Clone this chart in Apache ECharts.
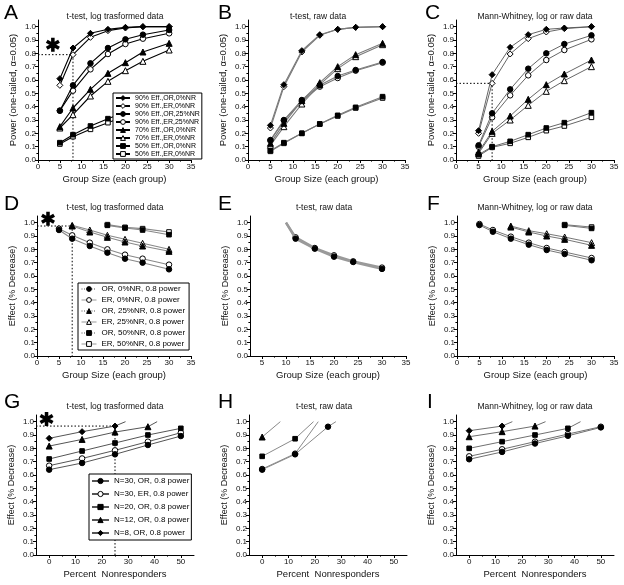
<!DOCTYPE html>
<html><head><meta charset="utf-8">
<script src="https://cdn.jsdelivr.net/npm/echarts@6/dist/echarts.min.js"></script>
<style>html,body{margin:0;padding:0;background:#fff}#c{width:624px;height:585px}</style>
</head><body><div id="c"></div>
<script>
// ---------------- data ----------------
const groupSizes = [5, 8, 12, 16, 20, 24, 30];
const percentNR = [0, 12.5, 25, 37.5, 50];

const groupTicks = [0, 5, 10, 15, 20, 25, 30, 35];
const groupMinor = [2.5, 7.5, 12.5, 17.5, 22.5, 27.5, 32.5];
const groupTicksE = [5, 10, 15, 20, 25, 30, 35];
const groupMinorE = [7.5, 12.5, 17.5, 22.5, 27.5, 32.5];
const pctTicks = [0, 10, 20, 30, 40, 50];
const pctMinor = [5, 15, 25, 35, 45];
const yTicks = [0, 0.1, 0.2, 0.3, 0.4, 0.5, 0.6, 0.7, 0.8, 0.9, 1.0];
const yMinor = [0.05, 0.15, 0.25, 0.35, 0.45, 0.55, 0.65, 0.75, 0.85, 0.95];

// A: t-test, log transformed data (power)
const A_90_OR_0  = [0.61, 0.84, 0.95, 0.98, 0.995, 1.00, 1.00];
const A_90_ER_0  = [0.56, 0.79, 0.92, 0.97, 0.99, 1.00, 1.00];
const A_90_OR_25 = [0.37, 0.56, 0.725, 0.84, 0.905, 0.94, 0.975];
const A_90_ER_25 = [0.37, 0.52, 0.68, 0.795, 0.87, 0.91, 0.95];
const A_70_OR_0  = [0.25, 0.39, 0.53, 0.65, 0.73, 0.81, 0.875];
const A_70_ER_0  = [0.24, 0.34, 0.48, 0.59, 0.67, 0.74, 0.825];
const A_50_OR_0  = [0.13, 0.19, 0.255, 0.31, 0.36, 0.41, 0.48];
const A_50_ER_0  = [0.12, 0.175, 0.23, 0.28, 0.33, 0.38, 0.46];
const A_refN = 8, A_refPower = 0.79;
const A_star = [3.4, 0.865];

// B: t-test, raw data
const B_90_OR_0  = [0.26, 0.565, 0.82, 0.94, 0.98, 0.995, 1.00];
const B_90_ER_0  = [0.24, 0.55, 0.81, 0.935, 0.98, 0.995, 1.00];
const B_90_OR_25 = [0.15, 0.30, 0.45, 0.56, 0.63, 0.675, 0.735];
const B_90_ER_25 = [0.145, 0.295, 0.44, 0.55, 0.615, 0.67, 0.73];
const B_70_OR_0  = [0.125, 0.275, 0.445, 0.58, 0.70, 0.79, 0.875];
const B_70_ER_0  = [0.11, 0.25, 0.42, 0.565, 0.685, 0.775, 0.865];
const B_50_OR_0  = [0.07, 0.13, 0.20, 0.27, 0.335, 0.395, 0.475];
const B_50_ER_0  = [0.065, 0.125, 0.20, 0.27, 0.33, 0.39, 0.465];

// C: Mann-Whitney
const C_90_OR_0  = [0.22, 0.64, 0.845, 0.94, 0.98, 0.99, 1.00];
const C_90_ER_0  = [0.20, 0.575, 0.795, 0.91, 0.96, 0.985, 1.00];
const C_90_OR_25 = [0.11, 0.35, 0.53, 0.685, 0.80, 0.87, 0.935];
const C_90_ER_25 = [0.10, 0.32, 0.485, 0.635, 0.75, 0.825, 0.905];
const C_70_OR_0  = [0.06, 0.215, 0.33, 0.455, 0.565, 0.645, 0.75];
const C_70_ER_0  = [0.05, 0.20, 0.30, 0.41, 0.515, 0.595, 0.70];
const C_50_OR_0  = [0.04, 0.10, 0.14, 0.19, 0.24, 0.28, 0.355];
const C_50_ER_0  = [0.03, 0.095, 0.125, 0.17, 0.22, 0.255, 0.32];
const C_refN = 8, C_refPower = 0.575;

// D: effect at 0.8 power, t-test log
const D_OR_0  = [0.945, 0.88, 0.825, 0.775, 0.73, 0.70, 0.65];
const D_ER_0  = [0.955, 0.905, 0.85, 0.80, 0.76, 0.73, 0.685];
const D_OR_25 = [null, 0.975, 0.93, 0.89, 0.855, 0.825, 0.785];
const D_ER_25 = [null, 0.98, 0.945, 0.905, 0.875, 0.845, 0.80];
const D_OR_50 = [null, null, null, 0.98, 0.96, 0.945, 0.91];
const D_ER_50 = [null, null, null, 0.985, 0.965, 0.955, 0.93];
const D_50_start = [15.5, 1.0];
const D_refN = 8, D_refEffect = 0.975;
const D_star = [2.5, 1.03];

// E: t-test raw
const E_OR_0 = [null, null, 0.88, 0.805, 0.745, 0.705, 0.653];
const E_ER_0 = [null, null, 0.89, 0.81, 0.755, 0.71, 0.663];
const E_start = [10, 1.0];

// F: Mann-Whitney
const F_OR_0  = [0.982, 0.932, 0.88, 0.835, 0.795, 0.765, 0.718];
const F_ER_0  = [0.99, 0.945, 0.895, 0.85, 0.81, 0.78, 0.735];
const F_OR_25 = [null, null, 0.967, 0.93, 0.90, 0.875, 0.83];
const F_ER_25 = [null, null, 0.975, 0.94, 0.917, 0.892, 0.85];
const F_OR_50 = [null, null, null, null, null, 0.98, 0.957];
const F_ER_50 = [null, null, null, null, null, 0.985, 0.967];

// G: effect vs % nonresponders, t-test log
const G_N30_OR = [0.64, 0.69, 0.755, 0.825, 0.892];
const G_N30_ER = [0.67, 0.724, 0.785, 0.85, 0.917];
const G_N20_OR = [0.72, 0.78, 0.84, 0.90, 0.95];
const G_N12_OR = [0.817, 0.867, 0.922, 0.962, null];
const G_N8_OR  = [0.875, 0.925, 0.967, null, null];
const G_N12_end = [41, 1.0];
const G_N8_end = [29, 1.0];
const G_refNR = 25, G_refEffect = 0.967;
const G_star = [-1, 1.02];

// H: t-test raw
const H_N30_OR = [0.64, 0.755, 0.962, null, null];
const H_N30_ER = [0.645, 0.76, null, null, null];
const H_N20_OR = [0.74, 0.872, null, null, null];
const H_N12_OR = [0.885, null, null, null, null];
const H_N30_OR_end = [28, 1.0];
const H_N30_ER_end = [21.3, 1.0];
const H_N20_end = [19.5, 1.0];
const H_N12_end = [6.9, 1.0];

// I: Mann-Whitney
const I_N30_OR = [0.718, 0.773, 0.836, 0.894, 0.957];
const I_N30_ER = [0.74, 0.793, 0.85, 0.907, 0.962];
const I_N20_OR = [0.80, 0.85, 0.90, 0.95, null];
const I_N12_OR = [0.887, 0.925, 0.967, null, null];
const I_N8_OR  = [0.932, 0.967, null, null, null];
const I_N20_end = [42.3, 1.0];
const I_N12_end = [29, 1.0];
const I_N8_end = [16.4, 1.0];

const namesA = ['90% Eff.,OR,0%NR','90% Eff.,ER,0%NR','90% Eff.,OR,25%NR','90% Eff.,ER,25%NR',
                '70% Eff.,OR,0%NR','70% Eff.,ER,0%NR','50% Eff.,OR,0%NR','50% Eff.,ER,0%NR'];
const namesD = ['OR, 0%NR, 0.8 power','ER, 0%NR, 0.8 power','OR, 25%NR, 0.8 power',
                'ER, 25%NR, 0.8 power','OR, 50%NR, 0.8 power','ER, 50%NR, 0.8 power'];
const namesG = ['N=30, OR, 0.8 power','N=30, ER, 0.8 power','N=20, OR, 0.8 power',
                'N=12, OR, 0.8 power','N=8, OR, 0.8 power'];

// ---------------- build ----------------
const FONT = "'Liberation Sans', Arial, sans-serif";
const SHAPE = {dia:'diamond', cir:'circle', tri:'triangle', sq:'rect'};
const SIZE = {dia:6, cir:5.5, tri:6, sq:4.6};
const STAR_PATH = 'path://M-1.5,-6L1.5,-6L1.5,6L-1.5,6Z' +
  'M4.446,-4.299L5.946,-1.701L-4.446,4.299L-5.946,1.701Z' +
  'M5.946,1.701L4.446,4.299L-5.946,-1.701L-4.446,-4.299Z';

function ln(g, name, xs, ys, shape, filled, color, width, opts) {
  opts = opts || {};
  const data = [];
  if (opts.start) data.push({value: opts.start, symbol: 'none'});
  xs.forEach((x, i) => { if (ys[i] != null) data.push([x, ys[i]]); });
  if (opts.end) data.push({value: opts.end, symbol: 'none'});
  return {
    type: 'line', name, xAxisIndex: g, yAxisIndex: g, data,
    symbol: SHAPE[shape], symbolSize: SIZE[shape], showAllSymbol: true,
    lineStyle: {color, width},
    itemStyle: {color: filled ? '#000' : '#fff', borderColor: '#000', borderWidth: 1},
    emphasis: {disabled: true}, z: filled ? 3 : 2, silent: true
  };
}
function ref(g, x0, xv, yv) {
  return {type: 'line', xAxisIndex: g, yAxisIndex: g, symbol: 'none', silent: true,
    data: [[x0, yv], [xv, yv], [xv, 0]],
    lineStyle: {color: '#000', width: 1, type: [1.5, 2]}, z: 1};
}
function star(g, pos) {
  return {type: 'scatter', xAxisIndex: g, yAxisIndex: g, data: [pos], symbol: STAR_PATH,
    symbolSize: 14, silent: true, itemStyle: {color: '#000', opacity: 1}, z: 5};
}

const series = [];
function powerPanel(g, arrs, names, color, w) {
  const shapes = ['dia','dia','cir','cir','tri','tri','sq','sq'];
  arrs.forEach((a, i) => series.push(ln(g, names[i], groupSizes, a, shapes[i], i % 2 === 0, color, w)));
}
powerPanel(0, [A_90_OR_0, A_90_ER_0, A_90_OR_25, A_90_ER_25, A_70_OR_0, A_70_ER_0, A_50_OR_0, A_50_ER_0], namesA, '#000', 1.1);
powerPanel(1, [B_90_OR_0, B_90_ER_0, B_90_OR_25, B_90_ER_25, B_70_OR_0, B_70_ER_0, B_50_OR_0, B_50_ER_0], namesA.map(n => 'B ' + n), '#7a7a7a', 1.1);
powerPanel(2, [C_90_OR_0, C_90_ER_0, C_90_OR_25, C_90_ER_25, C_70_OR_0, C_70_ER_0, C_50_OR_0, C_50_ER_0], namesA.map(n => 'C ' + n), '#555', 0.9);
series.push(ref(0, 0, A_refN, A_refPower), star(0, A_star));
series.push(ref(2, 0, C_refN, C_refPower));

const effShapes = ['cir','cir','tri','tri','sq','sq'];
[D_OR_0, D_ER_0, D_OR_25, D_ER_25, D_OR_50, D_ER_50].forEach((a, i) =>
  series.push(ln(3, namesD[i], groupSizes, a, effShapes[i], i % 2 === 0, '#888', 1.1,
    i >= 4 ? {start: D_50_start} : {})));
series.push(ref(3, 0, D_refN, D_refEffect), star(3, D_star));

[E_OR_0, E_ER_0].forEach((a, i) =>
  series.push(ln(4, 'E ' + namesD[i], groupSizes, a, 'cir', i === 0, '#9a9a9a', 2.4, {start: E_start})));

[F_OR_0, F_ER_0, F_OR_25, F_ER_25, F_OR_50, F_ER_50].forEach((a, i) =>
  series.push(ln(5, 'F ' + namesD[i], groupSizes, a, effShapes[i], i % 2 === 0, '#666', 0.9)));

const nrShapes = ['cir','cir','sq','tri','dia'];
[[G_N30_OR], [G_N30_ER], [G_N20_OR], [G_N12_OR, G_N12_end], [G_N8_OR, G_N8_end]].forEach((a, i) =>
  series.push(ln(6, namesG[i], percentNR, a[0], nrShapes[i], i !== 1, '#555', 1, a[1] ? {end: a[1]} : {})));
series.push(ref(6, -5, G_refNR, G_refEffect), star(6, G_star));

[[H_N30_OR, H_N30_OR_end], [H_N30_ER, H_N30_ER_end], [H_N20_OR, H_N20_end], [H_N12_OR, H_N12_end]].forEach((a, i) =>
  series.push(ln(7, 'H ' + namesG[i], percentNR, a[0], nrShapes[i], i !== 1, '#8a8a8a', 1, {end: a[1]})));

[[I_N30_OR], [I_N30_ER], [I_N20_OR, I_N20_end], [I_N12_OR, I_N12_end], [I_N8_OR, I_N8_end]].forEach((a, i) =>
  series.push(ln(8, 'I ' + namesG[i], percentNR, a[0], nrShapes[i], i !== 1, '#707070', 1, a[1] ? {end: a[1]} : {})));

// layout
const H = 140;
const panels = [
  {left: 38,  top: 20,  width: 153, xmin: 0,   xmax: 35, xt: groupTicks,  xm: groupMinor,  xn: 'Group Size (each group)', yn: 'Power (one-tailed, \u03b1=0.05)', title: 't-test, log trasformed data', tx: 115, ty: 12, L: 'A', lx: 4, ly: 3},
  {left: 248, top: 20,  width: 157, xmin: 0,   xmax: 35, xt: groupTicks,  xm: groupMinor,  xn: 'Group Size (each group)', yn: 'Power (one-tailed, \u03b1=0.05)', title: 't-test, raw data', tx: 318, ty: 12, L: 'B', lx: 218, ly: 3},
  {left: 456, top: 20,  width: 158, xmin: 0,   xmax: 35, xt: groupTicks,  xm: groupMinor,  xn: 'Group Size (each group)', yn: 'Power (one-tailed, \u03b1=0.05)', title: 'Mann-Whitney, log or raw data', tx: 535, ty: 12, L: 'C', lx: 425, ly: 3},
  {left: 37,  top: 216, width: 154, xmin: 0,   xmax: 35, xt: groupTicks,  xm: groupMinor,  xn: 'Group Size (each group)', yn: 'Effect (% Decrease)', title: 't-test, log trasformed data', tx: 115, ty: 203, L: 'D', lx: 4, ly: 194},
  {left: 250, top: 216, width: 156, xmin: 2.5, xmax: 35, xt: groupTicksE, xm: groupMinorE, xn: 'Group Size (each group)', yn: 'Effect (% Decrease)', title: 't-test, raw data', tx: 324, ty: 203, L: 'E', lx: 218, ly: 194},
  {left: 457, top: 216, width: 157, xmin: 0,   xmax: 35, xt: groupTicks,  xm: groupMinor,  xn: 'Group Size (each group)', yn: 'Effect (% Decrease)', title: 'Mann-Whitney, log or raw data', tx: 535, ty: 203, L: 'F', lx: 427, ly: 194},
  {left: 36,  top: 415, width: 158, xmin: -5,  xmax: 55, xt: pctTicks,    xm: pctMinor,    xn: 'Percent  Nonresponders', yn: 'Effect (% Decrease)', title: 't-test, log trasformed data', tx: 115, ty: 402, L: 'G', lx: 4, ly: 392},
  {left: 249, top: 415, width: 158, xmin: -5,  xmax: 55, xt: pctTicks,    xm: pctMinor,    xn: 'Percent  Nonresponders', yn: 'Effect (% Decrease)', title: 't-test, raw data', tx: 324, ty: 402, L: 'H', lx: 218, ly: 392},
  {left: 456, top: 415, width: 158, xmin: -5,  xmax: 55, xt: pctTicks,    xm: pctMinor,    xn: 'Percent  Nonresponders', yn: 'Effect (% Decrease)', title: 'Mann-Whitney, log or raw data', tx: 535, ty: 402, L: 'I', lx: 427, ly: 392}
];

const grid = [], xAxis = [], yAxis = [], title = [];
const black = {color: '#000', width: 1};
panels.forEach((p, g) => {
  grid.push({left: p.left, top: p.top, width: p.width, height: H});
  xAxis.push({type: 'value', gridIndex: g, min: p.xmin, max: p.xmax, position: 'bottom',
    name: p.xn, nameLocation: 'middle', nameGap: 14,
    nameTextStyle: {fontSize: 9.5, fontFamily: FONT, color: '#111'},
    axisLine: {onZero: false, lineStyle: black},
    axisTick: {customValues: p.xt, length: 3, lineStyle: black},
    axisLabel: {customValues: p.xt, fontSize: 8, margin: 3, color: '#111', fontFamily: FONT},
    splitLine: {show: false}});
  yAxis.push({type: 'value', gridIndex: g, min: 0, max: 1.05, position: 'left',
    name: p.yn, nameLocation: 'middle', nameGap: 20, nameRotate: 90,
    nameTextStyle: {fontSize: g < 3 ? 9.5 : 9, fontFamily: FONT, color: '#111'},
    axisLine: {onZero: false, lineStyle: black},
    axisTick: {customValues: yTicks, length: 3, lineStyle: black},
    axisLabel: {customValues: yTicks, fontSize: 8, margin: 2, color: '#111', fontFamily: FONT,
      formatter: v => v.toFixed(1)},
    splitLine: {show: false}});
  title.push({text: p.L, left: p.lx, top: p.ly, padding: 0,
    textStyle: {fontSize: 21, fontWeight: 'normal', fontFamily: FONT, color: '#000'}});
  title.push({text: p.title, left: p.tx, top: p.ty, padding: 0, textAlign: 'center',
    textStyle: {fontSize: 8.5, fontWeight: 'normal', fontFamily: FONT, color: '#111'}});
});
panels.forEach((p, g) => {
  xAxis.push({type: 'value', gridIndex: g, min: p.xmin, max: p.xmax, position: 'bottom',
    axisLine: {show: false, onZero: false}, axisLabel: {show: false}, splitLine: {show: false},
    axisTick: {show: true, customValues: p.xm, length: 1.6, lineStyle: black}});
  yAxis.push({type: 'value', gridIndex: g, min: 0, max: 1.05, position: 'left',
    axisLine: {show: false, onZero: false}, axisLabel: {show: false}, splitLine: {show: false},
    axisTick: {show: true, customValues: yMinor, length: 1.6, lineStyle: black}});
});

const legendBase = {orient: 'vertical', backgroundColor: '#fff', borderColor: '#000', borderWidth: 1,
  selectedMode: false, z: 10, itemStyle: {borderWidth: 1}};
const legend = [
  Object.assign({}, legendBase, {data: namesA, left: 113, top: 93, itemWidth: 14, itemHeight: 6, itemGap: 0,
    padding: [1, 2, 1, 2], textStyle: {fontSize: 7, lineHeight: 8, fontFamily: FONT, color: '#000'}}),
  Object.assign({}, legendBase, {data: namesD.map((n, i) => ({name: n,
      lineStyle: i % 2 === 0 ? {type: [1, 1.5], color: '#555', width: 1} : {type: 'solid', color: '#999', width: 1}})),
    left: 78, top: 283, itemWidth: 15, itemHeight: 6, itemGap: 2,
    padding: [1.5, 4, 1.5, 3], textStyle: {fontSize: 8, lineHeight: 9, fontFamily: FONT, color: '#000'}}),
  Object.assign({}, legendBase, {data: namesG, left: 89, top: 474, itemWidth: 17, itemHeight: 6.5, itemGap: 4,
    padding: [2.5, 2, 2.5, 2], textStyle: {fontSize: 8, lineHeight: 9, fontFamily: FONT, color: '#000'}})
];

const chart = echarts.init(document.getElementById('c'), null, {renderer: 'canvas'});
chart.setOption({animation: false, backgroundColor: '#fff', title, grid, xAxis, yAxis, legend, series,
  textStyle: {fontFamily: FONT}});
</script></body></html>
